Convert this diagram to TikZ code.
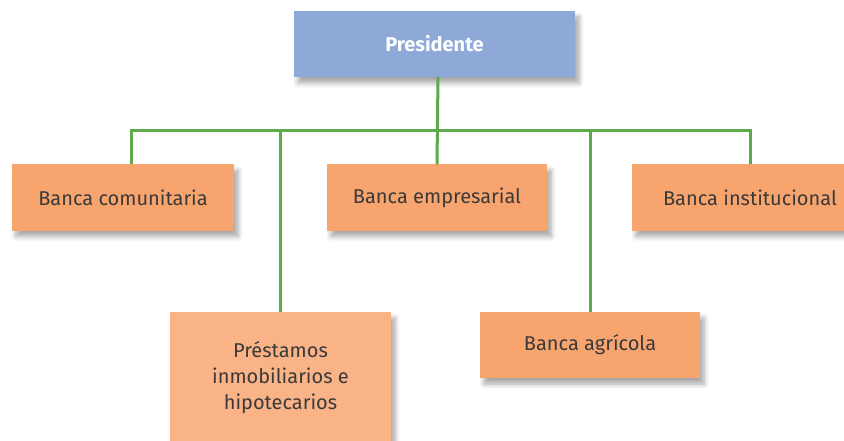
\documentclass[tikz,border=0pt]{standalone}
\usepackage{fontspec}
\setmainfont{Fira Sans}
\usetikzlibrary{shadows.blur}

\definecolor{presblue}{HTML}{8EA8D8}
\definecolor{bankorange}{HTML}{F7A46F}
\definecolor{loanorange}{HTML}{F9B387}
\definecolor{linkgreen}{HTML}{5EA94C}
\definecolor{textgray}{HTML}{3A3A3A}

\begin{document}
\begin{tikzpicture}[x=1pt,y=-1pt]

      \useasboundingbox (0,0) rectangle (844,441);
      \clip (0,0) rectangle (844,441);

      \begin{scope}[every node/.style={rectangle,inner sep=0pt,minimum height=66pt,
          font=\fontsize{20}{26}\selectfont,text=textgray,
          blur shadow={shadow xshift=4pt,shadow yshift=-6pt,shadow opacity=35,shadow blur steps=6,shadow blur radius=5pt}}]
        \node[fill=presblue,minimum width=281pt,text=white,font=\fontsize{20}{26}\selectfont\bfseries] (pres) at (434.5,44) {Presidente};
        \node[fill=bankorange,minimum width=222pt] (com) at (123,197.5) {Banca comunitaria};
        \node[fill=bankorange,minimum width=220pt] (emp) at (437,197.5) {Banca empresarial};
        \node[fill=bankorange,minimum width=236pt] (ins) at (750,197.5) {Banca institucional};
        \node[fill=loanorange,minimum width=221pt,minimum height=132pt,align=center] (pre) at (280.5,378) {Préstamos\\inmobiliarios e\\hipotecarios};
        \node[fill=bankorange,minimum width=220pt] (agr) at (590,345) {Banca agrícola};
      \end{scope}

      \coordinate (bus) at (438,131);
      \coordinate (comtop) at (131,164);

      \begin{scope}[linkgreen,line width=3pt]
        \draw (438,77) -- (emp.north);
        \draw (comtop) |- (bus) -| (ins.north);
        \draw (pre.north) -- (pre.north |- bus);
        \draw (agr.north) -- (agr.north |- bus);
      \end{scope}

    \end{tikzpicture}
\end{document}
